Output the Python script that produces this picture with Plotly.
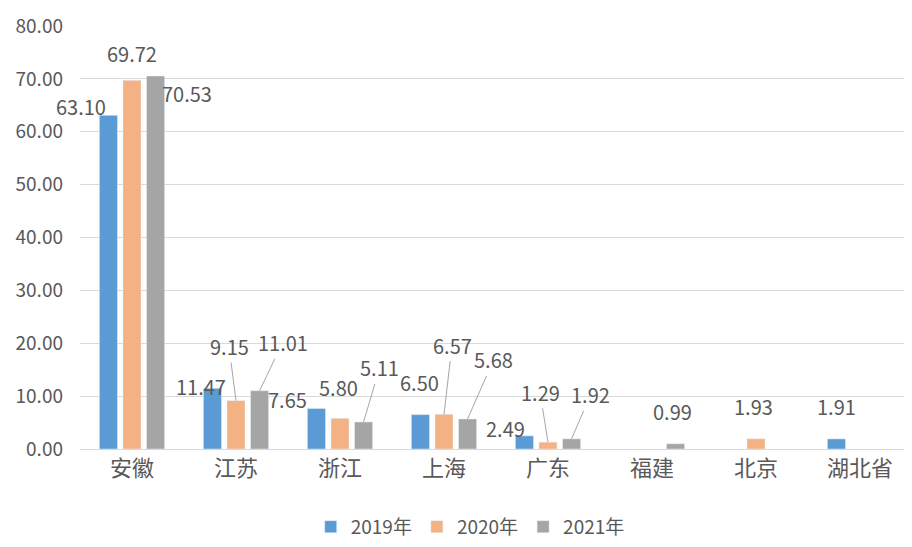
import plotly.graph_objects as go

# categories and values (None = no bar)
CATEGORIES = ['安徽', '江苏', '浙江', '上海', '广东', '福建', '北京', '湖北省']
Y2019 = [63.10, 11.47, 7.65, 6.50, 2.49, None, None, 1.91]
Y2020 = [69.72, 9.15, 5.80, 6.57, 1.29, None, 1.93, None]
Y2021 = [70.53, 11.01, 5.11, 5.68, 1.92, 0.99, None, None]
SERIES = ['2019年', '2020年', '2021年']
COLORS = ['#5B9BD5', '#F4B183', '#A5A5A5']

# label offsets in pixels (dx, dy) from bar top, and whether a leader line is drawn
OFFSETS = [
    [(-27, -9, 0), (-11, -2, 0), (-29, -9, 0), (-1, -32, 0), (-19, -7, 0), None, None, (0, -32, 0)],
    [(0, -27, 0), (-7, -54, 1), (-2, -31, 0), (8, -69, 1), (-8, -50, 1), None, (-3, -32, 0), None],
    [(31, 17, 0), (23, -48, 1), (16, -54, 1), (26, -59, 1), (19, -44, 1), (-3, -32, 0), None, None],
]

BARGAP = 0.32
GROUPGAP = 0.234
FONT = 'Microsoft YaHei, Noto Sans CJK SC, sans-serif'
TXT = '#595959'

fig = go.Figure()
all_vals = [Y2019, Y2020, Y2021]
for name, vals, col in zip(SERIES, all_vals, COLORS):
    fig.add_trace(go.Bar(x=CATEGORIES, y=vals, name=name, marker_color=col))

slot = (1 - BARGAP) / 3
for k, vals in enumerate(all_vals):
    for i, v in enumerate(vals):
        off = OFFSETS[k][i]
        if v is None or off is None:
            continue
        dx, dy, line = off
        fig.add_annotation(
            x=i + (k - 1) * slot, y=v, xref='x', yref='y',
            text=f'{v:.2f}', showarrow=True, arrowhead=0, arrowwidth=1,
            arrowcolor='#A6A6A6' if line else 'rgba(0,0,0,0)',
            ax=dx, ay=dy, standoff=0,
            font=dict(size=20, color=TXT, family=FONT),
        )

# page body has an 8px margin, so the figure is 8px smaller and shifted
fig.update_layout(
    width=904, height=539,
    barmode='group', bargap=BARGAP, bargroupgap=GROUPGAP,
    plot_bgcolor='white', paper_bgcolor='white',
    margin=dict(l=72, r=0, t=18, b=98, autoexpand=False),
    font=dict(family=FONT, size=20, color=TXT),
    xaxis=dict(showline=True, linecolor='#D9D9D9', linewidth=1, automargin=False,
               range=[-0.5, 7.5], ticks='', tickfont=dict(size=22, color=TXT)),
    yaxis=dict(range=[0, 80], dtick=10, tickformat='.2f', automargin=False,
               showgrid=True, gridcolor='#D9D9D9', gridwidth=1,
               zeroline=False, ticklabelstandoff=16,
               tickfont=dict(size=19, color=TXT)),
    legend=dict(orientation='h', x=0.469, xanchor='center', y=-0.184, yanchor='middle',
                font=dict(size=19, color=TXT), itemwidth=30),
    showlegend=True,
)

fig.write_html("out.html")
